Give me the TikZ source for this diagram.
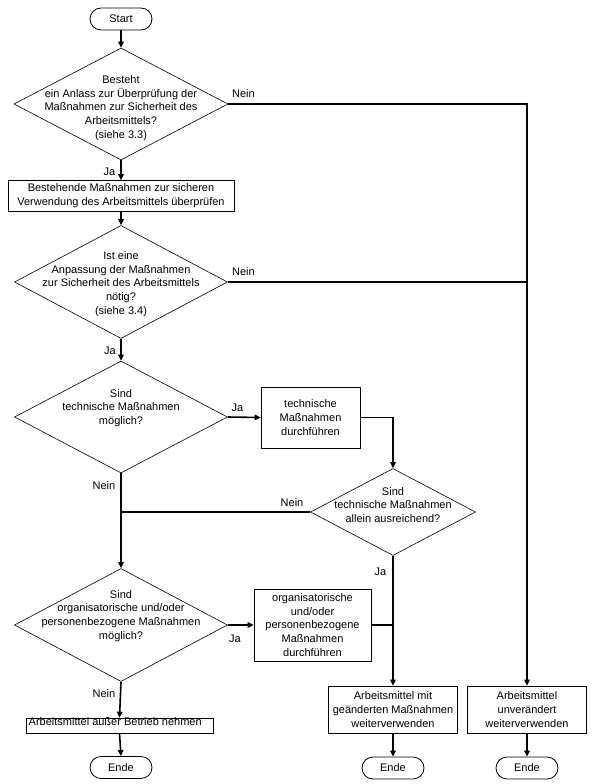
\documentclass[tikz,border=0pt]{standalone}
\usepackage{fontspec}
\setmainfont{Liberation Sans}
\usetikzlibrary{shapes.geometric,arrows.meta}
\begin{document}
\begin{tikzpicture}[x=1pt,y=-1pt,
  every node/.style={font=\fontsize{11}{13.8}\selectfont},
  box/.style={draw, line width=0.6pt, inner sep=0pt, align=center},
  dec/.style={draw, diamond, line width=0.6pt, inner sep=0pt},
  term/.style={draw, rounded corners=11pt, line width=0.8pt, minimum width=62pt, minimum height=22pt, inner sep=0pt},
  txt/.style={align=center, inner sep=0pt},
  lbl/.style={inner sep=0pt},
  conn/.style={line width=1.6pt},
  arr/.style={conn, -{Triangle[length=6pt,width=5.5pt]}}]
\useasboundingbox (0,0) rectangle (594,784);
% nodes
\node[term] (start) at (121,19) {Start};
\node[dec, minimum width=214pt, minimum height=112pt] (d1) at (121,104) {};
\node[txt] (t1) at (121,108) {Besteht\\ein Anlass zur Überprüfung der\\Maßnahmen zur Sicherheit des\\Arbeitsmittels?\\(siehe 3.3)};
\node[box, minimum width=226pt, minimum height=31pt] (b1) at (121,196) {Bestehende Maßnahmen zur sicheren\\Verwendung des Arbeitsmittels überprüfen};
\node[dec, minimum width=213pt, minimum height=113pt] (d2) at (121,282) {};
\node[txt] (t2) at (121,284) {Ist eine\\Anpassung der Maßnahmen\\zur Sicherheit des Arbeitsmittels\\nötig?\\(siehe 3.4)};
\node[dec, minimum width=213pt, minimum height=112pt] (d3) at (121,417) {};
\node[txt] (t3) at (121,408) {Sind\\technische Maßnahmen\\möglich?};
\node[box, minimum width=99pt, minimum height=61pt] (b2) at (310.5,417.5) {technische\\Maßnahmen\\durchführen};
\node[dec, minimum width=165pt, minimum height=87pt] (d4) at (393,512) {};
\node[txt] (t4) at (393,505) {Sind\\technische Maßnahmen\\allein ausreichend?};
\node[dec, minimum width=213pt, minimum height=113pt] (d5) at (121,625) {};
\node[txt] (t5) at (121,616) {Sind\\organisatorische und/oder\\personenbezogene Maßnahmen\\möglich?};
\node[box, minimum width=117pt, minimum height=72pt] (b3) at (312.5,625) {organisatorische\\und/oder\\personenbezogene\\Maßnahmen\\durchführen};
\node[box, minimum width=187pt, minimum height=15pt] (b4) at (119.5,725.5) {};
\node[lbl, anchor=west] (t6) at (28.5,722) {Arbeitsmittel außer Betrieb nehmen};
\node[box, minimum width=129pt, minimum height=47pt] (b5) at (393,709.5) {Arbeitsmittel mit\\geänderten Maßnahmen\\weiterverwenden};
\node[box, minimum width=119pt, minimum height=47pt] (b6) at (527,709.5) {Arbeitsmittel\\unverändert\\weiterverwenden};
\node[term] (e1) at (121,767.5) {Ende};
\node[term] (e2) at (393,768) {Ende};
\node[term] (e3) at (527,768) {Ende};
% junctions
\coordinate (r1) at (527,104);
\coordinate (r2) at (527,282);
\coordinate (j1) at (121,512);
\coordinate (j2) at (393,625);
% connectors
\draw[arr] (start) -- (d1.north);
\draw[arr] (d1.south) -- (b1.north);
\draw[arr] (b1.south) -- (d2.north);
\draw[arr] (d2.south) -- (d3.north);
\draw[arr] (d3.east) -- (b2.west);
\draw[arr] (b2.east) -| (d4.north);
\draw[arr] (d3.south) -- (d5.north);
\draw[conn] (d4.west) -- (j1);
\draw[arr] (d4.south) -- (b5.north);
\draw[arr] (d5.east) -- (b3.west);
\draw[conn] (b3.east) -- (j2);
\draw[arr] (d5.south) -- (b4.north);
\draw[arr] (b4.south) -- (e1.north);
\draw[arr] (b5.south) -- (e2.north);
\draw[arr] (b6.south) -- (e3.north);
\draw[arr] (d1.east) -- (r1) -- (b6.north);
\draw[conn] (d2.east) -- (r2);
% labels
\node[lbl] (l1) at (243.5,94) {Nein};
\node[lbl] (l2) at (243.5,272) {Nein};
\node[lbl] (l3) at (109.5,172) {Ja};
\node[lbl] (l4) at (110,351) {Ja};
\node[lbl] (l5) at (237.5,408) {Ja};
\node[lbl] (l6) at (104,486) {Nein};
\node[lbl] (l7) at (292,503) {Nein};
\node[lbl] (l8) at (380.5,572) {Ja};
\node[lbl] (l9) at (235,639) {Ja};
\node[lbl] (l10) at (104,694) {Nein};
\end{tikzpicture}
\end{document}
